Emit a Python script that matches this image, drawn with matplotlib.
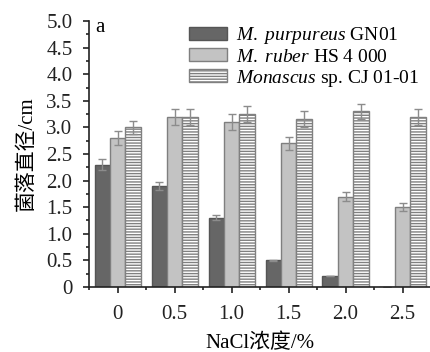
import matplotlib
matplotlib.use("Agg")
import matplotlib.pyplot as plt
import numpy as np
from matplotlib.ticker import MultipleLocator

plt.rcParams['font.family'] = ['Liberation Serif', 'Noto Sans CJK SC']
plt.rcParams['mathtext.fontset'] = 'custom'
plt.rcParams['mathtext.it'] = 'Liberation Serif:italic'
plt.rcParams['mathtext.rm'] = 'Liberation Serif'
plt.rcParams['hatch.linewidth'] = 1.0
plt.rcParams['hatch.color'] = '#8c8c8c'

# NaCl concentration (%) and colony diameter (cm) for the three strains
nacl = ['0', '0.5', '1.0', '1.5', '2.0', '2.5']
purpureus = [2.3, 1.9, 1.3, 0.5, 0.2, 0.0]
purpureus_err = [0.1, 0.08, 0.05, 0.01, 0.0, 0.0]
ruber = [2.8, 3.2, 3.1, 2.7, 1.7, 1.5]
ruber_err = [0.13, 0.15, 0.15, 0.12, 0.08, 0.07]
monascus = [3.0, 3.2, 3.25, 3.15, 3.3, 3.2]
monascus_err = [0.13, 0.15, 0.15, 0.15, 0.15, 0.15]

x = np.arange(len(nacl))
w = 0.27

fig = plt.figure(figsize=(4.31, 3.52), dpi=100)
ax = fig.add_axes([0.207, 0.185, 0.793, 0.755])

err_kw = dict(ecolor='#8c8c8c', elinewidth=1.0, capsize=3, capthick=1.0)
ax.bar(x - w, purpureus, w, yerr=purpureus_err, color='#666666', edgecolor='#555555',
       linewidth=1.0, error_kw=err_kw, label=r'$\it{M.\ purpureus}$ GN01')
ax.bar(x, ruber, w, yerr=ruber_err, color='#c3c3c3', edgecolor='#7f7f7f',
       linewidth=1.0, error_kw=err_kw, label=r'$\it{M.\ ruber}$ HS 4 000')
ax.bar(x + w, monascus, w, yerr=monascus_err, color='white', edgecolor='#808080',
       hatch='------', linewidth=1.0, error_kw=err_kw,
       label=r'$\it{Monascus}$ sp. CJ 01-01')

ax.set_xlim(-0.5, 5.5)
ax.set_ylim(0, 5.0)
ax.set_xticks(x)
ax.set_xticklabels(nacl)
ax.xaxis.set_minor_locator(MultipleLocator(1.0, offset=0.5))
ax.yaxis.set_major_locator(MultipleLocator(0.5))
ax.yaxis.set_minor_locator(MultipleLocator(0.25))
ax.yaxis.set_major_formatter(lambda v, p: '0' if v == 0 else f'{v:.1f}')

for s in ['top', 'right']:
    ax.spines[s].set_visible(False)
for s in ['left', 'bottom']:
    ax.spines[s].set_color('#222222')
    ax.spines[s].set_linewidth(1.2)

ax.tick_params(which='major', direction='out', length=4, width=1.2, labelsize=15,
               colors='#222222')
ax.tick_params(which='minor', direction='out', length=2.5, width=1.2, colors='#222222')
ax.tick_params(axis='x', which='major', pad=9)
ax.tick_params(axis='y', which='major', pad=8)

ax.set_xlabel('NaCl浓度/%', fontsize=15, labelpad=7)
ax.set_ylabel('菌落直径/cm', fontsize=15, labelpad=7)

ax.text(0.018, 1.01, 'a', transform=ax.transAxes, fontsize=15, va='top', ha='left')

ax.legend(loc='upper right', bbox_to_anchor=(1.0, 1.028), frameon=False, fontsize=14,
          handlelength=2.0, handleheight=0.65, labelspacing=0.1, handletextpad=0.45,
          borderaxespad=0.2)

fig.savefig('out.png', dpi=100)
